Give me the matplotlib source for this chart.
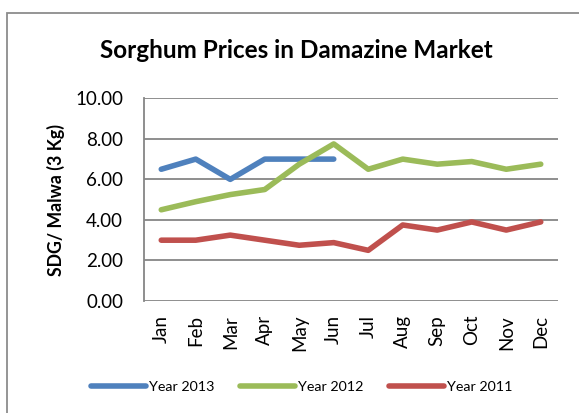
import matplotlib
matplotlib.use("Agg")
import matplotlib.pyplot as plt
from matplotlib.patches import Rectangle

months = ["Jan", "Feb", "Mar", "Apr", "May", "Jun", "Jul", "Aug", "Sep", "Oct", "Nov", "Dec"]
year_2013 = [6.5, 7.0, 6.0, 7.0, 7.0, 7.0]
year_2012 = [4.5, 4.9, 5.25, 5.5, 6.75, 7.75, 6.5, 7.0, 6.75, 6.88, 6.5, 6.75]
year_2011 = [3.0, 3.0, 3.25, 3.0, 2.75, 2.88, 2.5, 3.75, 3.5, 3.9, 3.5, 3.9]
y_ticks = [0, 2, 4, 6, 8, 10]

plt.rcParams['font.family'] = ['Lato', 'DejaVu Sans']

W, H = 579, 413
fig = plt.figure(figsize=(W / 100, H / 100), dpi=100)

# outer chart border (extends past right/bottom)
fig.add_artist(Rectangle((7 / W, -0.1), 1.2, 1 - 13 / H + 0.1, transform=fig.transFigure,
                         fill=False, edgecolor='#8c8c8c', linewidth=1.3))

ax = fig.add_axes([144 / W, 1 - 301 / H, (558 - 144) / W, (301 - 98.3) / H])

x = list(range(len(months)))
ax.plot(x[:len(year_2013)], year_2013, color='#4F81BD', lw=4, solid_capstyle='round',
        solid_joinstyle='round', label='Year 2013', zorder=3)
ax.plot(x, year_2012, color='#9BBB59', lw=4, solid_capstyle='round',
        solid_joinstyle='round', label='Year 2012', zorder=3)
ax.plot(x, year_2011, color='#C0504D', lw=4, solid_capstyle='round',
        solid_joinstyle='round', label='Year 2011', zorder=3)

ax.set_xlim(-0.5, len(months) - 0.5)
ax.set_ylim(0, 10)
ax.set_yticks(y_ticks)
ax.set_yticklabels([f"{v:.2f}" for v in y_ticks], fontsize=13.5)
ax.set_xticks(x)
ax.set_xticklabels(months, rotation=90, fontsize=13.5)
ax.tick_params(axis='y', length=0, pad=15)
ax.tick_params(axis='x', length=0, pad=10)

ax.grid(axis='y', color='#868686', lw=1.3, zorder=1)
for s in ['top', 'right', 'bottom']:
    ax.spines[s].set_visible(False)
ax.spines['left'].set_color('#868686')
ax.spines['left'].set_linewidth(1.3)

ax.set_ylabel("SDG/ Malwa (3 Kg)", fontsize=12.8, fontweight='bold')
ax.yaxis.set_label_coords((65 - 144) / (558 - 144), 0.5)

fig.text(296 / W, 1 - 50 / H, "Sorghum Prices in Damazine Market", fontsize=17.5,
         fontweight='bold', ha='center', va='center')

leg = fig.legend(loc='center', bbox_to_anchor=(302 / W, 1 - 387 / H), ncol=3, frameon=False,
                 fontsize=10.3, handlelength=3.8, handletextpad=0.25, columnspacing=1.8)

fig.savefig("out.png", dpi=100)
